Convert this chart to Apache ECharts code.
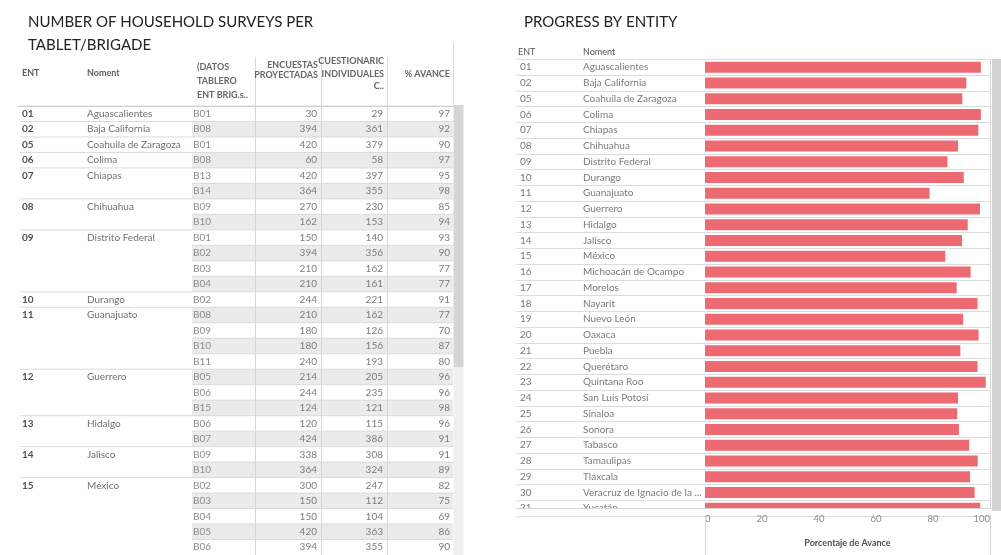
<!DOCTYPE html>
<html>
<head>
<meta charset="utf-8">
<script src="https://cdn.jsdelivr.net/npm/echarts@6/dist/echarts.min.js"></script>
<style>
html,body{margin:0;padding:0;background:#fff;}
#chart{width:1001px;height:555px;}
</style>
</head>
<body>
<div id="chart"></div>
<script>
// ---------- Table data (left) ----------
const rowEnt = ['01','02','05','06','07','07','08','08','09','09','09','09','10','11','11','11','11','12','12','12','13','13','14','14','15','15','15','15','15'];
const rowName = ['Aguascalientes','Baja California','Coahuila de Zaragoza','Colima','Chiapas','Chiapas','Chihuahua','Chihuahua','Distrito Federal','Distrito Federal','Distrito Federal','Distrito Federal','Durango','Guanajuato','Guanajuato','Guanajuato','Guanajuato','Guerrero','Guerrero','Guerrero','Hidalgo','Hidalgo','Jalisco','Jalisco','México','México','México','México','México'];
const rowBrig = ['B01','B08','B01','B08','B13','B14','B09','B10','B01','B02','B03','B04','B02','B08','B09','B10','B11','B05','B06','B15','B06','B07','B09','B10','B02','B03','B04','B05','B06'];
const rowProyectadas = [30,394,420,60,420,364,270,162,150,394,210,210,244,210,180,180,240,214,244,124,120,424,338,364,300,150,150,420,394];
const rowCuestionarios = [29,361,379,58,397,355,230,153,140,356,162,161,221,162,126,156,193,205,235,121,115,386,308,324,247,112,104,363,355];
const rowAvance = [97,92,90,97,95,98,85,94,93,90,77,77,91,77,70,87,80,96,96,98,96,91,91,89,82,75,69,86,90];

// ---------- Bar chart data (right) ----------
const entCodes = ['01','02','05','06','07','08','09','10','11','12','13','14','15','16','17','18','19','20','21','22','23','24','25','26','27','28','29','30','31'];
const entNames = ['Aguascalientes','Baja California','Coahuila de Zaragoza','Colima','Chiapas','Chihuahua','Distrito Federal','Durango','Guanajuato','Guerrero','Hidalgo','Jalisco','México','Michoacán de Ocampo','Morelos','Nayarit','Nuevo León','Oaxaca','Puebla','Querétaro','Quintana Roo','San Luis Potosí','Sinaloa','Sonora','Tabasco','Tamaulipas','Tlaxcala','Veracruz de Ignacio de la ...','Yucatán'];
const avance = [96.8,91.7,90.3,96.8,95.9,88.8,85.1,90.8,78.8,96.5,92.2,90.2,84.3,93.2,88.3,95.6,90.6,96.0,89.6,95.6,98.5,88.8,88.5,89.1,92.7,95.7,93.0,94.6,96.6];
const xTicks = [0, 20, 40, 60, 80, 100];

// ---------- Header texts ----------
const titleLeft = 'NUMBER OF HOUSEHOLD SURVEYS PER\nTABLET/BRIGADE';
const titleRight = 'PROGRESS BY ENTITY';
const tableHeaders = ['ENT', 'Noment', '(DATOS\nTABLERO\nENT BRIG.s..', 'ENCUESTAS\nPROYECTADAS', 'CUESTIONARIC\nINDIVIDUALES\nC..', '% AVANCE'];
const barHeaders = ['ENT', 'Noment'];
const xAxisTitle = 'Porcentaje de Avance';

const FONT = 'Lato';
const ROW_H_T = 15.65, ROW_H_B = 15.75;
const chart = echarts.init(document.getElementById('chart'), null, {renderer: 'canvas'});

const tableRows = rowBrig.map((b, i) => [0, i]);
const barTop = 59.3, barH = ROW_H_B * entCodes.length;
const tblTop = 106, tblH = ROW_H_T * rowBrig.length;

function vline(x, y1, y2, color) {
  return {type: 'line', z: 15, shape: {x1: x, y1: y1, x2: x, y2: y2}, style: {stroke: color || '#d9d9d9', lineWidth: 1}};
}
const HF = 'bold 9px ' + FONT;
const BF = '10px ' + FONT;

const option = {
  animation: false,
  backgroundColor: '#ffffff',
  textStyle: {fontFamily: FONT},
  title: [
    {text: titleLeft, left: 28, top: 11, padding: 0, textStyle: {fontFamily: FONT, fontSize: 15, fontWeight: 'normal', color: '#222', lineHeight: 23}},
    {text: titleRight, left: 524, top: 11, padding: 0, textStyle: {fontFamily: FONT, fontSize: 15, fontWeight: 'normal', color: '#222', lineHeight: 23}}
  ],
  grid: [
    {left: 516, top: barTop, width: 474, height: barH},
    {left: 705, top: barTop, width: 285, height: barH},
    {left: 18, top: tblTop, width: 435, height: tblH}
  ],
  xAxis: [
    {gridIndex: 0, type: 'value', min: 0, max: 1, show: false},
    {gridIndex: 1, type: 'value', min: xTicks[0], max: xTicks[xTicks.length - 1], interval: 20,
      axisLine: {show: false}, axisTick: {show: false}, splitLine: {show: false},
      axisLabel: {color: '#8a8a8a', fontSize: 9.5, fontFamily: FONT, margin: -2, alignMinLabel: 'left', alignMaxLabel: 'right'},
      name: xAxisTitle, nameLocation: 'middle', nameGap: 23,
      nameTextStyle: {color: '#505050', fontSize: 9, fontFamily: FONT, fontWeight: 'bold'}},
    {gridIndex: 2, type: 'value', min: 0, max: 1, show: false}
  ],
  yAxis: [
    {gridIndex: 0, type: 'category', inverse: true, data: entCodes,
      axisLine: {show: false}, axisTick: {show: false},
      splitLine: {show: true, lineStyle: {color: '#dcdcdc', width: 1}},
      axisLabel: {inside: true, margin: 4, interval: 0,
        formatter: (v, i) => '{c|' + v + '}{n|' + entNames[i] + '}',
        rich: {c: {width: 63, color: '#7a7a7a', fontSize: 10, fontFamily: FONT}, n: {color: '#7a7a7a', fontSize: 10, fontFamily: FONT}}}},
    {gridIndex: 1, type: 'category', inverse: true, data: entCodes, show: false},
    {gridIndex: 2, type: 'category', inverse: true, data: rowBrig.map((b, i) => i), show: false}
  ],
  series: [
    {type: 'bar', xAxisIndex: 1, yAxisIndex: 1, data: avance, barWidth: 11,
      itemStyle: {color: '#ee6a73'}, z: 3},
    {type: 'custom', xAxisIndex: 2, yAxisIndex: 2, data: tableRows, clip: false,
      renderItem: function (params, api) {
        const i = api.value(1);
        const c = api.coord([0, i]);
        const hh = api.size([0, 1])[1];
        const x0 = params.coordSys.x;
        const top = c[1] - hh / 2, cy = c[1];
        const groupStart = i === 0 || rowEnt[i] !== rowEnt[i - 1];
        const kids = [];
        if (i % 2 === 1) {
          kids.push({type: 'rect', shape: {x: x0 + 174, y: top, width: 261, height: hh}, style: {fill: '#ebebeb'}});
        }
        kids.push({type: 'line', shape: {x1: x0 + (groupStart ? 2 : 174), y1: top, x2: x0 + 435, y2: top}, style: {stroke: '#dadada', lineWidth: 1}});
        [237.5, 303.5, 369.5].forEach(function (vx) {
          kids.push({type: 'line', shape: {x1: x0 + vx, y1: top, x2: x0 + vx, y2: top + hh}, style: {stroke: '#d6d6d6', lineWidth: 1}});
        });
        if (groupStart) {
          kids.push({type: 'text', style: {text: rowEnt[i], x: x0 + 4, y: cy, align: 'left', verticalAlign: 'middle', font: 'bold 10px ' + FONT, fill: '#505050'}});
          kids.push({type: 'text', style: {text: rowName[i], x: x0 + 69, y: cy, align: 'left', verticalAlign: 'middle', font: BF, fill: '#707070'}});
        }
        kids.push({type: 'text', style: {text: rowBrig[i], x: x0 + 175, y: cy, align: 'left', verticalAlign: 'middle', font: BF, fill: '#8c8c8c'}});
        kids.push({type: 'text', style: {text: String(rowProyectadas[i]), x: x0 + 299, y: cy, align: 'right', verticalAlign: 'middle', font: BF, fill: '#7c7c7c'}});
        kids.push({type: 'text', style: {text: String(rowCuestionarios[i]), x: x0 + 365, y: cy, align: 'right', verticalAlign: 'middle', font: BF, fill: '#7c7c7c'}});
        kids.push({type: 'text', style: {text: String(rowAvance[i]), x: x0 + 432, y: cy, align: 'right', verticalAlign: 'middle', font: BF, fill: '#7c7c7c'}});
        return {type: 'group', children: kids};
      }
    }
  ],
  graphic: [
    // left table header
    {type: 'text', x: 22, y: 73, z: 20, style: {text: tableHeaders[0], font: HF, fill: '#5f5f5f', align: 'left', verticalAlign: 'middle'}},
    {type: 'text', x: 87, y: 73, z: 20, style: {text: tableHeaders[1], font: HF, fill: '#5f5f5f', align: 'left', verticalAlign: 'middle'}},
    {type: 'text', x: 197, y: 60, z: 20, style: {text: tableHeaders[2], font: HF, fill: '#666', align: 'left', verticalAlign: 'top', lineHeight: 14}},
    {type: 'text', x: 318, y: 60, z: 20, style: {text: tableHeaders[3], font: HF, fill: '#666', align: 'right', verticalAlign: 'top', lineHeight: 10}},
    {type: 'text', x: 384, y: 55, z: 20, style: {text: tableHeaders[4], font: HF, fill: '#666', align: 'right', verticalAlign: 'top', lineHeight: 12.5}},
    {type: 'text', x: 450, y: 74, z: 20, style: {text: tableHeaders[5], font: HF, fill: '#666', align: 'right', verticalAlign: 'middle'}},
    {type: 'line', z: 15, shape: {x1: 18, y1: 106.5, x2: 453, y2: 106.5}, style: {stroke: '#d0d0d0', lineWidth: 1}},
    vline(255.5, 57, 106.5), vline(321.5, 57, 106.5), vline(387.5, 57, 106.5), vline(453.5, 43, 106.5),
    // table scrollbar
    {type: 'rect', z: 16, shape: {x: 453.5, y: 105, width: 10, height: 262}, style: {fill: '#d5d5d5'}},
    {type: 'rect', z: 16, shape: {x: 453.5, y: 367, width: 10, height: 190}, style: {fill: '#efefef'}},
    // bar chart header
    {type: 'text', x: 518, y: 52, z: 20, style: {text: barHeaders[0], font: '9px ' + FONT, fill: '#555', align: 'left', verticalAlign: 'middle'}},
    {type: 'text', x: 583, y: 52, z: 20, style: {text: barHeaders[1], font: '9px ' + FONT, fill: '#555', align: 'left', verticalAlign: 'middle'}},
    // clip last partial row
    {type: 'rect', z: 30, shape: {x: 508, y: 508.5, width: 484, height: 6}, style: {fill: '#ffffff'}},
    {type: 'line', z: 31, shape: {x1: 516, y1: 508.5, x2: 991, y2: 508.5}, style: {stroke: '#d6d6d6', lineWidth: 1}},
    vline(705.5, 508, 555, '#d6d6d6'), vline(990.5, 59, 555, '#d6d6d6'),
    // bar chart scrollbar
    {type: 'rect', z: 16, shape: {x: 992, y: 59, width: 9, height: 452}, style: {fill: '#d3d3d3'}}
  ]
};
chart.setOption(option);
</script>
</body>
</html>
